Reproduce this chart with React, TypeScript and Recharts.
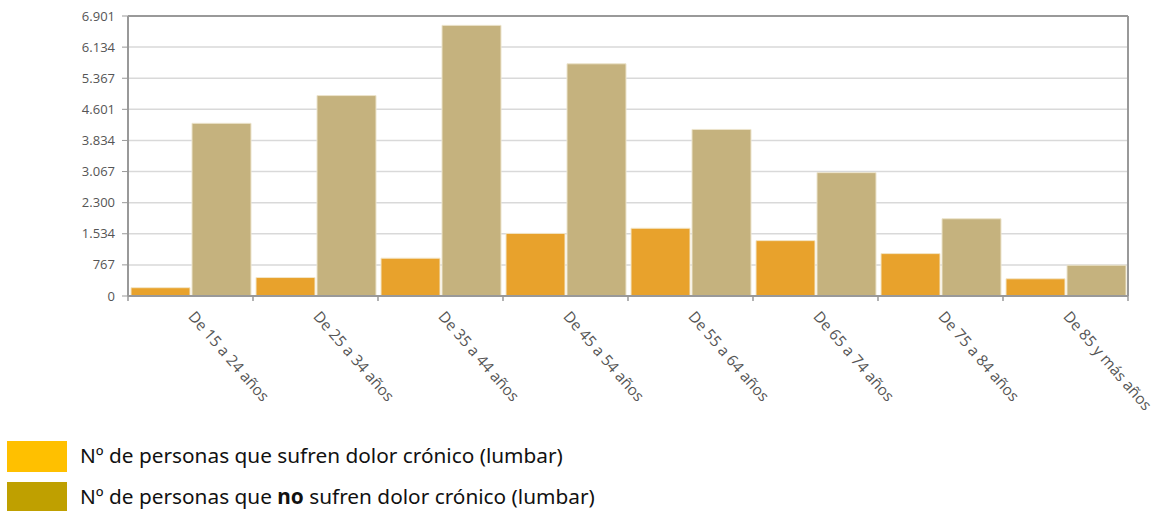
import React from "react";
import { BarChart, Bar, XAxis, YAxis, CartesianGrid } from "recharts";

const categories = [
  "De 15 a 24 años",
  "De 25 a 34 años",
  "De 35 a 44 años",
  "De 45 a 54 años",
  "De 55 a 64 años",
  "De 65 a 74 años",
  "De 75 a 84 años",
  "De 85 y más años",
];
const sufren = [205, 455, 932, 1543, 1670, 1365, 1045, 425];
const noSufren = [4256, 4940, 6670, 5723, 4105, 3040, 1904, 759];
const yTicks = [0, 767, 1534, 2300, 3067, 3834, 4601, 5367, 6134, 6901];
const legendLabels = [
  "Nº de personas que sufren dolor crónico (lumbar)",
  "Nº de personas que no sufren dolor crónico (lumbar)",
];

const data = categories.map((c, i) => ({ name: c, sufren: sufren[i], noSufren: noSufren[i] }));

const fmt = (v: number) => v.toString().replace(/\B(?=(\d{3})+(?!\d))/g, ".");

const XTick = (props: any) => {
  const { x, y, payload } = props;
  const off = payload && payload.offset ? payload.offset : 62.5;
  return (
    <g>
      <line x1={x - off} y1={y - 8} x2={x - off} y2={y - 3} stroke="#999" strokeWidth={1.5} />
      {payload.index === categories.length - 1 && (
        <line x1={x + off} y1={y - 8} x2={x + off} y2={y - 3} stroke="#999" strokeWidth={1.5} />
      )}
      <text
        x={x - 3}
        y={y + 13}
        transform={`rotate(49 ${x - 3} ${y + 13})`}
        textAnchor="start"
        fill="#555"
        fontSize={15.3}
        fontFamily="'Open Sans', sans-serif"
      >
        {payload.value}
      </text>
    </g>
  );
};

export default function App() {
  return (
    <div style={{ position: "absolute", left: 0, top: 0, width: 1153, height: 511, background: "#fff" }}>
      <BarChart
        width={1153}
        height={440}
        data={data}
        margin={{ top: 16, right: 25, bottom: 0, left: 0 }}
        barGap={2}
        barCategoryGap={3}
      >
        <CartesianGrid horizontal vertical={false} stroke="#d9d9d9" strokeWidth={1.5} />
        <CartesianGrid
          horizontal
          vertical
          stroke="#999"
          strokeWidth={2}
          horizontalCoordinatesGenerator={({ offset }: any) => [offset.top]}
          verticalCoordinatesGenerator={({ offset }: any) => [offset.left, offset.left + offset.width]}
        />
        <XAxis
          dataKey="name"
          interval={0}
          height={144}
          axisLine={{ stroke: "#999", strokeWidth: 2 }}
          tickLine={false}
          tick={<XTick />}
        />
        <YAxis
          width={128}
          domain={[0, 6901]}
          ticks={yTicks}
          interval={0}
          tickFormatter={fmt}
          axisLine={{ stroke: "#999", strokeWidth: 2 }}
          tickLine={{ stroke: "#999" }}
          tickSize={6}
          tickMargin={7}
          tick={{ fill: "#555", fontSize: 13, fontFamily: "'Open Sans', sans-serif" }}
        />
        <Bar dataKey="sufren" fill="#E8A22C" stroke="#f3e6c8" strokeWidth={1} isAnimationActive={false} />
        <Bar dataKey="noSufren" fill="#C5B27E" stroke="#ece4cc" strokeWidth={1} isAnimationActive={false} />
      </BarChart>
      <div style={{ position: "absolute", left: 7, top: 441, fontFamily: "'Noto Sans', sans-serif", fontSize: 20.8, color: "#111" }}>
        <div style={{ display: "flex", alignItems: "center", height: 31 }}>
          <div style={{ width: 60, height: 31, background: "#FFC000" }} />
          <span style={{ marginLeft: 13, marginTop: -3 }}>{legendLabels[0]}</span>
        </div>
        <div style={{ display: "flex", alignItems: "center", height: 30, marginTop: 10 }}>
          <div style={{ width: 60, height: 30, background: "#BFA000" }} />
          <span style={{ marginLeft: 13, marginTop: -3 }}>
            Nº de personas que <b>no</b> sufren dolor crónico (lumbar)
          </span>
        </div>
      </div>
    </div>
  );
}
